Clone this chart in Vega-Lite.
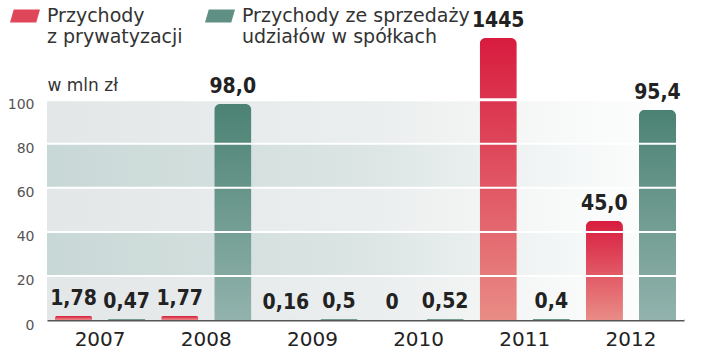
{
  "$schema": "https://vega.github.io/schema/vega-lite/v6.json",
  "width": 637,
  "height": 282,
  "autosize": "none",
  "padding": {"left": 47, "top": 38, "right": 36, "bottom": 37},
  "background": "white",
  "config": {
    "view": {"stroke": null},
    "font": "DejaVu Sans"
  },
  "datasets": {
    "bars": [
      {"year": "2007", "series": "Przychody z prywatyzacji", "value": 1.78, "label": "1,78"},
      {"year": "2007", "series": "Przychody ze sprzedaży udziałów w spółkach", "value": 0.47, "label": "0,47"},
      {"year": "2008", "series": "Przychody z prywatyzacji", "value": 1.77, "label": "1,77"},
      {"year": "2008", "series": "Przychody ze sprzedaży udziałów w spółkach", "value": 98.0, "label": "98,0"},
      {"year": "2009", "series": "Przychody z prywatyzacji", "value": 0.16, "label": "0,16"},
      {"year": "2009", "series": "Przychody ze sprzedaży udziałów w spółkach", "value": 0.5, "label": "0,5"},
      {"year": "2010", "series": "Przychody z prywatyzacji", "value": 0, "label": "0"},
      {"year": "2010", "series": "Przychody ze sprzedaży udziałów w spółkach", "value": 0.52, "label": "0,52"},
      {"year": "2011", "series": "Przychody z prywatyzacji", "value": 1445, "label": "1445"},
      {"year": "2011", "series": "Przychody ze sprzedaży udziałów w spółkach", "value": 0.4, "label": "0,4"},
      {"year": "2012", "series": "Przychody z prywatyzacji", "value": 45.0, "label": "45,0"},
      {"year": "2012", "series": "Przychody ze sprzedaży udziałów w spółkach", "value": 95.4, "label": "95,4"}
    ],
    "bands": [
      {"lo": 0, "hi": 20, "shade": "light"},
      {"lo": 20, "hi": 40, "shade": "dark"},
      {"lo": 40, "hi": 60, "shade": "light"},
      {"lo": 60, "hi": 80, "shade": "dark"},
      {"lo": 80, "hi": 100, "shade": "light"}
    ],
    "grid": [
      {"v": 20, "w": 2},
      {"v": 40, "w": 2},
      {"v": 60, "w": 2},
      {"v": 80, "w": 2},
      {"v": 100, "w": 3}
    ]
  },
  "layer": [
    {
      "data": {"name": "bands"},
      "transform": [{"filter": "datum.shade == 'light'"}],
      "mark": {
        "type": "rect",
        "color": {"gradient": "linear", "x1": 0, "y1": 0, "x2": 1, "y2": 0,
          "stops": [{"offset": 0, "color": "#e3e7e8"}, {"offset": 0.5, "color": "#ebeeee"}, {"offset": 0.82, "color": "#f8f9f9"}, {"offset": 1, "color": "#ffffff"}]}
      },
      "encoding": {
        "y": {"field": "lo", "type": "quantitative", "scale": {"domain": [0, 128], "clamp": true, "nice": false}},
        "y2": {"field": "hi"}
      }
    },
    {
      "data": {"name": "bands"},
      "transform": [{"filter": "datum.shade == 'dark'"}],
      "mark": {
        "type": "rect",
        "color": {"gradient": "linear", "x1": 0, "y1": 0, "x2": 1, "y2": 0,
          "stops": [{"offset": 0, "color": "#c8d8d6"}, {"offset": 0.5, "color": "#dce5e4"}, {"offset": 0.82, "color": "#f4f7f7"}, {"offset": 1, "color": "#ffffff"}]}
      },
      "encoding": {
        "y": {"field": "lo", "type": "quantitative"},
        "y2": {"field": "hi"}
      }
    },
    {
      "data": {"name": "bars"},
      "transform": [{"filter": "datum.series == 'Przychody z prywatyzacji'"}],
      "mark": {"type": "bar", "cornerRadiusTopLeft": 6, "cornerRadiusTopRight": 6,
        "color": {"gradient": "linear", "x1": 0, "y1": 0, "x2": 0, "y2": 1, "stops": [{"offset": 0, "color": "#d81c3f"}, {"offset": 1, "color": "#e98c86"}]}},
      "encoding": {
        "x": {"field": "year", "type": "nominal", "scale": {"paddingInner": 0, "paddingOuter": 0},
          "axis": {"title": null, "labelAngle": 0, "labelFontSize": 20, "labelColor": "#222", "labelPadding": 9,
            "ticks": false, "domainColor": "#555", "domainWidth": 2, "labelFont": "DejaVu Sans"}},
        "xOffset": {"field": "series", "type": "nominal",
          "scale": {"domain": ["Przychody z prywatyzacji", "Przychody ze sprzedaży udziałów w spółkach"], "paddingInner": 0.3, "paddingOuter": 0.15}},
        "y": {"field": "value", "type": "quantitative",
          "axis": {"values": [0, 20, 40, 60, 80, 100], "grid": false, "domain": false, "ticks": false,
            "labelFontSize": 14, "labelColor": "#555", "labelPadding": 13, "labelOffset": 5,
            "title": "w mln zł", "titleAngle": 0, "titleAlign": "left", "titleBaseline": "alphabetic",
            "titleX": 0, "titleY": 52, "titleFontSize": 17, "titleFontWeight": "normal", "titleColor": "#333"}}
      }
    },
    {
      "data": {"name": "bars"},
      "transform": [{"filter": "datum.series != 'Przychody z prywatyzacji'"}],
      "mark": {"type": "bar", "cornerRadiusTopLeft": 6, "cornerRadiusTopRight": 6,
        "color": {"gradient": "linear", "x1": 0, "y1": 0, "x2": 0, "y2": 1, "stops": [{"offset": 0, "color": "#4b8273"}, {"offset": 1, "color": "#92b3ad"}]}},
      "encoding": {
        "x": {"field": "year", "type": "nominal"},
        "xOffset": {"field": "series", "type": "nominal"},
        "y": {"field": "value", "type": "quantitative"}
      }
    },
    {
      "data": {"name": "bars"},
      "mark": {"type": "point", "filled": true, "opacity": 0, "size": 1},
      "encoding": {
        "x": {"field": "year", "type": "nominal"},
        "xOffset": {"field": "series", "type": "nominal"},
        "y": {"field": "value", "type": "quantitative"},
        "color": {"field": "series", "type": "nominal",
          "scale": {"domain": ["Przychody z prywatyzacji", "Przychody ze sprzedaży udziałów w spółkach"], "range": ["#e0465a", "#5f9083"]},
          "legend": {
            "title": null, "orient": "none", "legendX": -37, "legendY": -46, "direction": "horizontal",
            "symbolType": "M-0.75,0.17 L1,0.17 L0.75,1.03 L-1,1.03 Z", "symbolSize": 900, "symbolStrokeWidth": 0, "symbolOpacity": 1,
            "labelFontSize": 19, "labelColor": "#333", "labelLimit": 400, "labelOffset": 7, "columnPadding": 22,
            "labelBaseline": "top",
            "labelExpr": "datum.label == 'Przychody z prywatyzacji' ? ['Przychody', 'z prywatyzacji'] : ['Przychody ze sprzedaży', 'udziałów w spółkach']"
          }
        }
      }
    },
    {
      "data": {"name": "grid"},
      "mark": {"type": "rule", "color": "white"},
      "encoding": {
        "y": {"field": "v", "type": "quantitative"},
        "strokeWidth": {"field": "w", "type": "quantitative", "scale": null}
      }
    },
    {
      "data": {"name": "bars"},
      "mark": {"type": "text", "dy": -11, "baseline": "alphabetic", "fontSize": 21, "fontWeight": "bold",
        "font": "DejaVu Sans Condensed, DejaVu Sans", "color": "#222"},
      "encoding": {
        "x": {"field": "year", "type": "nominal"},
        "xOffset": {"field": "series", "type": "nominal"},
        "y": {"field": "value", "type": "quantitative"},
        "text": {"field": "label"}
      }
    }
  ]
}
